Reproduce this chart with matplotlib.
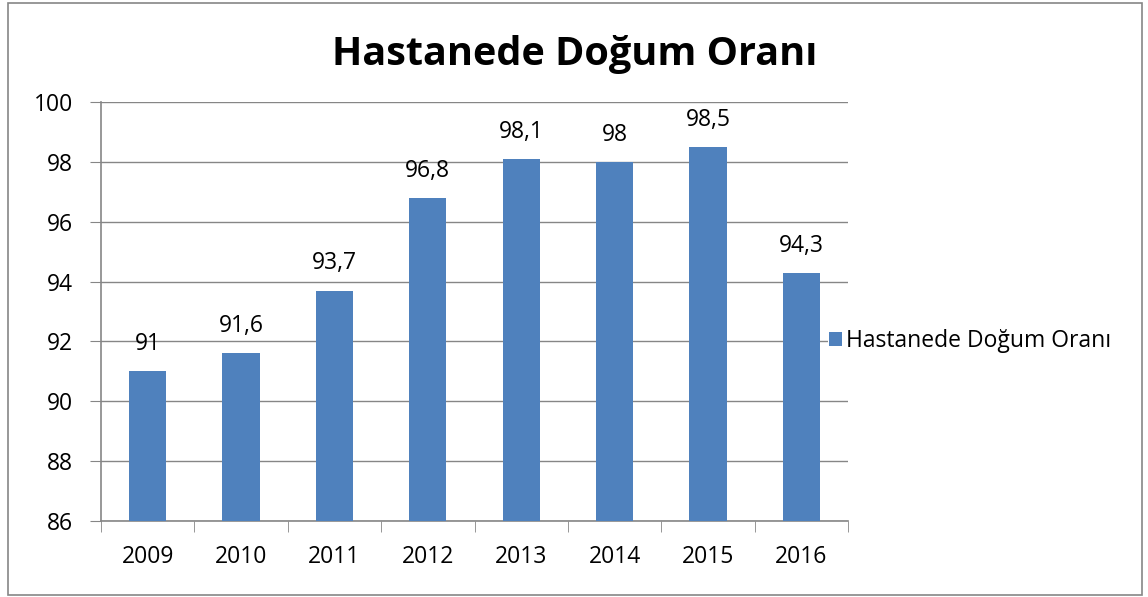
import matplotlib.pyplot as plt
from matplotlib.patches import Rectangle
import numpy as np

plt.rcParams['font.family'] = ['Open Sans', 'DejaVu Sans']

years = ['2009', '2010', '2011', '2012', '2013', '2014', '2015', '2016']
values = [91, 91.6, 93.7, 96.8, 98.1, 98, 98.5, 94.3]
series_name = 'Hastanede Doğum Oranı'

fig = plt.figure(figsize=(11.48, 5.97), dpi=100)
W, H = 1148, 597
ax = fig.add_axes([101 / W, 1 - 521 / H, (848 - 101) / W, (521 - 102) / H])

x = np.arange(len(years))
bars = ax.bar(x, values, width=0.4, color='#4f81bd', label=series_name, zorder=3)

# etiketler virgüllü
for xi, v in zip(x, values):
    lbl = f'{v:g}'.replace('.', ',')
    ax.annotate(lbl, (xi, v), xytext=(0, 19.5), textcoords='offset points',
                ha='center', va='center', fontsize=16.5)

ax.set_ylim(86, 100)
ax.set_xlim(-0.5, len(years) - 0.5)
ax.set_yticks(range(86, 101, 2))
ax.set_xticks(x)
ax.set_xticklabels(years)
ax.set_xticks(np.arange(-0.5, len(years)), minor=True)
ax.tick_params(axis='x', which='major', length=0, pad=17, labelsize=16.5)
ax.tick_params(axis='x', which='minor', length=8, color='#868686', direction='out')
ax.tick_params(axis='y', length=8, color='#868686', pad=12, labelsize=16.5)
ax.grid(axis='y', color='#868686', linewidth=1, zorder=0)
for s in ['top', 'right']:
    ax.spines[s].set_visible(False)
for s in ['left', 'bottom']:
    ax.spines[s].set_color('#868686')
    ax.spines[s].set_linewidth(1.2)

fig.text(575 / W, 1 - 55 / H, series_name, ha='center', va='center',
         fontsize=28.5, fontweight='bold')

leg = ax.legend(loc='center left', bbox_to_anchor=((828 - 101) / (848 - 101), (521 - 341) / (521 - 102)),
                frameon=True, fontsize=16.5, handlelength=0.55, handleheight=0.55,
                handletextpad=0.2, borderaxespad=0, borderpad=0.05)
leg.get_frame().set_facecolor('white')
leg.get_frame().set_edgecolor('none')
leg.get_frame().set_alpha(1)
leg.set_zorder(5)

fig.patches.append(Rectangle((8 / W, 1 - 595 / H), (1142 - 8) / W, (595 - 3) / H,
                             transform=fig.transFigure, fill=False,
                             edgecolor='#868686', linewidth=1.2))

fig.savefig('out.png', dpi=100)
